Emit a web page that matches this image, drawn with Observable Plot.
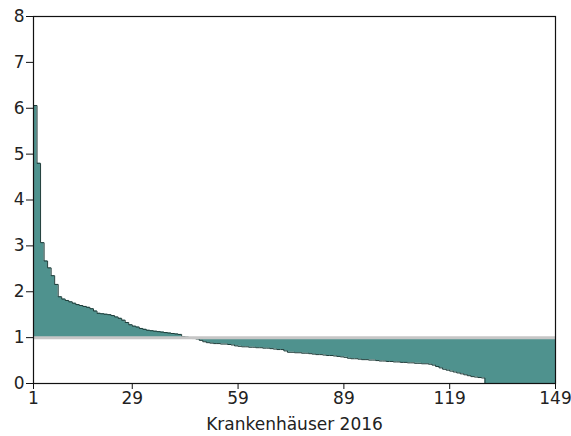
<!DOCTYPE html>
<html>
<head>
<meta charset="utf-8">
<script src="https://cdn.jsdelivr.net/npm/d3@7"></script>
<script src="https://cdn.jsdelivr.net/npm/@observablehq/plot@0.6"></script>
<style>
  html, body { margin: 0; padding: 0; background: #fff; }
  #chart svg { display: block; }
</style>
</head>
<body>
<div id="chart"></div>
<script>
// Ratio values per hospital (sorted descending), hospitals 1..149
const ratios = [
  6.06, 4.80, 3.07, 2.67, 2.52, 2.35, 2.16, 1.89, 1.84, 1.81,
  1.78, 1.75, 1.72, 1.70, 1.68, 1.66, 1.63, 1.58, 1.53, 1.52,
  1.51, 1.50, 1.48, 1.45, 1.42, 1.38, 1.33, 1.28, 1.25, 1.23,
  1.20, 1.18, 1.16, 1.15, 1.14, 1.13, 1.12, 1.11, 1.10, 1.09,
  1.08, 1.07, 1.02, 1.01, 0.99, 0.98, 0.97, 0.94, 0.91, 0.89,
  0.88, 0.87, 0.87, 0.86, 0.86, 0.85, 0.84, 0.82, 0.81, 0.80,
  0.80, 0.79, 0.79, 0.78, 0.78, 0.77, 0.77, 0.76, 0.75, 0.74,
  0.74, 0.71, 0.68, 0.68, 0.67, 0.67, 0.66, 0.66, 0.65, 0.64,
  0.63, 0.63, 0.62, 0.61, 0.61, 0.60, 0.59, 0.58, 0.57, 0.55,
  0.54, 0.54, 0.53, 0.52, 0.52, 0.51, 0.51, 0.50, 0.49, 0.49,
  0.48, 0.48, 0.47, 0.47, 0.46, 0.46, 0.45, 0.45, 0.44, 0.44,
  0.43, 0.43, 0.42, 0.40, 0.37, 0.34, 0.31, 0.29, 0.27, 0.25,
  0.23, 0.21, 0.19, 0.17, 0.15, 0.14, 0.13, 0.12, 0, 0,
  0, 0, 0, 0, 0, 0, 0, 0, 0, 0,
  0, 0, 0, 0, 0, 0, 0, 0, 0
];
const xTicks = [1, 29, 59, 89, 119, 149];
const yTicks = [0, 1, 2, 3, 4, 5, 6, 7, 8];
const referenceLevel = 1;
const xLabel = "Krankenhäuser 2016";

const data = ratios.map((v, k) => ({hospital: k + 1, value: v}));

const chart = Plot.plot({
  width: 571,
  height: 436,
  marginLeft: 33,
  marginRight: 16,
  marginTop: 16,
  marginBottom: 53,
  style: {fontFamily: "'DejaVu Sans', Verdana, sans-serif", fontSize: "17px", color: "#222", background: "#fff"},
  x: {domain: [1, 149]},
  y: {domain: [0, 8]},
  marks: [
    Plot.areaY(data, {x: "hospital", y1: referenceLevel, y2: "value", curve: "step-after", fill: "#4f928e"}),
    Plot.lineY(data, {x: "hospital", y: "value", curve: "step-after", stroke: "#1d3b38", strokeWidth: 1}),
    Plot.ruleY([referenceLevel], {stroke: "#c6c6c6", strokeWidth: 3}),
    Plot.frame({stroke: "#111", strokeWidth: 1.2}),
    Plot.axisY({ticks: yTicks, tickFormat: d => String(d), tickSize: 7, tickPadding: 2, label: null, stroke: "#111"}),
    Plot.axisX({ticks: xTicks, tickFormat: d => String(d), tickSize: 6, tickPadding: 2, label: xLabel, labelAnchor: "center", labelArrow: "none", labelOffset: 46, stroke: "#111"})
  ]
});
document.getElementById("chart").appendChild(chart);
</script>
</body>
</html>
